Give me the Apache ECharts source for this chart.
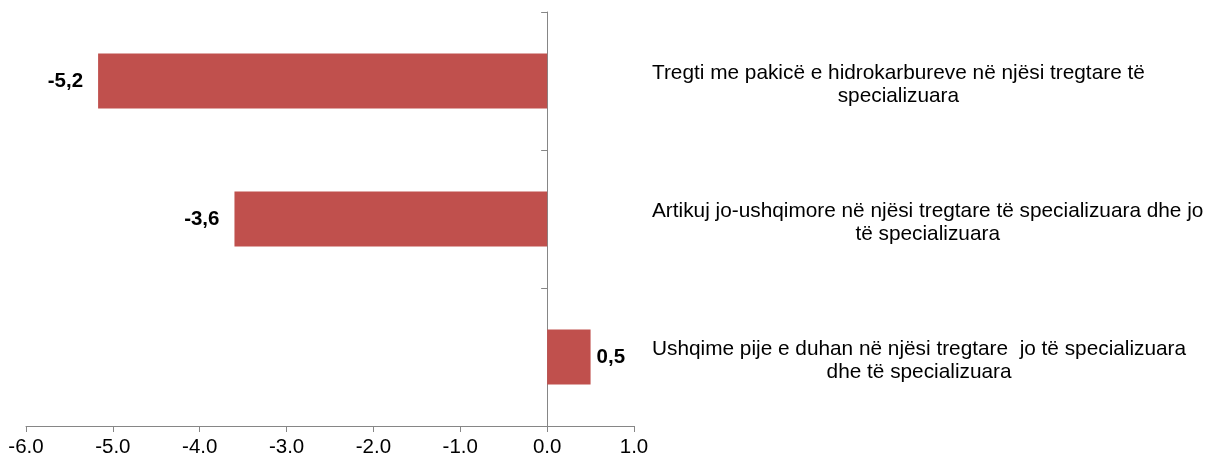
<!DOCTYPE html>
<html>
<head>
<meta charset="utf-8">
<script src="https://cdn.jsdelivr.net/npm/echarts@6/dist/echarts.min.js"></script>
<style>
  html, body { margin: 0; padding: 0; background: #ffffff; }
  #chart { width: 1221px; height: 461px; }
</style>
</head>
<body>
<div id="chart"></div>
<script>
const categories = [
  "Tregti me pakicë e hidrokarbureve në njësi tregtare të\nspecializuara",
  "Artikuj jo-ushqimore në njësi tregtare të specializuara dhe jo\ntë specializuara",
  "Ushqime pije e duhan në njësi tregtare  jo të specializuara\ndhe të specializuara"
];
const values = [-5.17, -3.6, 0.5];
const valueLabels = ["-5,2", "-3,6", "0,5"];
const xTicks = { min: -6, max: 1, step: 1 };

const FONT = "'Liberation Sans', Arial, sans-serif";
const chart = echarts.init(document.getElementById('chart'), null, { renderer: 'canvas' });

const barData = values.map((v, i) => ({
  value: v,
  label: {
    position: v < 0 ? 'left' : 'right',
    distance: v < 0 ? 15 : 6,
    formatter: valueLabels[i]
  }
}));

chart.setOption({
  animation: false,
  backgroundColor: '#ffffff',
  grid: { left: 26, right: 587, top: 12, bottom: 35 },
  xAxis: {
    type: 'value',
    min: xTicks.min,
    max: xTicks.max,
    interval: xTicks.step,
    splitLine: { show: false },
    axisLine: { show: true, onZero: false, lineStyle: { color: '#868686', width: 1 } },
    axisTick: { show: true, length: 6, lineStyle: { color: '#868686' } },
    axisLabel: {
      margin: 11,
      color: '#000000',
      fontSize: 20.5,
      fontFamily: FONT,
      formatter: v => v.toFixed(1)
    }
  },
  yAxis: [
    {
      type: 'category',
      data: categories,
      inverse: true,
      axisLine: { show: true, onZero: true, lineStyle: { color: '#868686', width: 1 } },
      axisTick: { show: true, length: 6, lineStyle: { color: '#868686' } },
      axisLabel: { show: false }
    },
    {
      type: 'category',
      data: categories,
      inverse: true,
      position: 'right',
      axisLine: { show: false, onZero: false },
      axisTick: { show: false },
      axisLabel: {
        interval: 0,
        margin: 18,
        align: 'left',
        padding: [7, 0, 0, 0],
        formatter: s => s.split('\n').map(l => '{c|' + l + '}').join('\n'),
        rich: {
          c: {
            align: 'center',
            fontSize: 20.8,
            fontFamily: FONT,
            color: '#000000',
            lineHeight: 23
          }
        }
      }
    }
  ],
  series: [
    {
      type: 'bar',
      yAxisIndex: 0,
      data: barData,
      barWidth: '39.7%',
      itemStyle: { color: '#C0504D' },
      label: {
        show: true,
        color: '#000000',
        fontWeight: 'bold',
        fontSize: 20.5,
        fontFamily: FONT
      }
    }
  ]
});
</script>
</body>
</html>
